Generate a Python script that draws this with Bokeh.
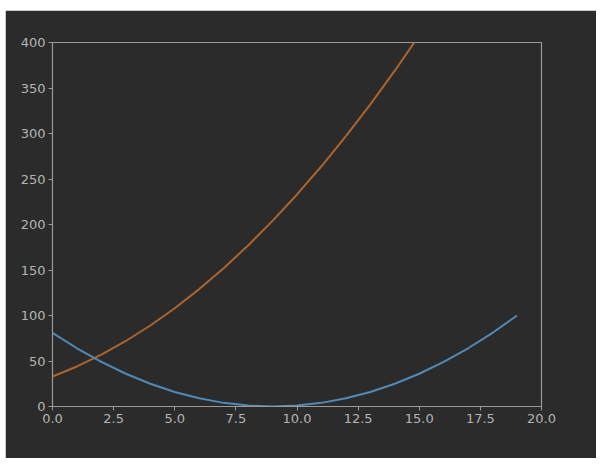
from bokeh.plotting import figure
from bokeh.models import FixedTicker, Range1d, CustomJSTickFormatter
from bokeh.embed import file_html
from bokeh.resources import INLINE

x_values = [0, 1, 2, 3, 4, 5, 6, 7, 8, 9, 10, 11, 12, 13, 14, 15, 16, 17, 18, 19]
blue_values = [81, 64, 49, 36, 25, 16, 9, 4, 1, 0, 1, 4, 9, 16, 25, 36, 49, 64, 81, 100]
orange_values = [33, 44, 57, 72, 89, 108, 129, 152, 177, 204, 233, 264, 297, 332, 369, 408, 449, 492, 537, 584]
x_ticks = [0, 2.5, 5, 7.5, 10, 12.5, 15, 17.5, 20]
y_ticks = [0, 50, 100, 150, 200, 250, 300, 350, 400]

BG = "#2b2b2b"
AX = "#9a9a9a"
TXT = "#b4b4b4"

p = figure(width=591, height=448, output_backend="svg", toolbar_location=None,
           x_range=Range1d(0, 20), y_range=Range1d(0, 400),
           min_border_left=47, min_border_right=55, min_border_top=32, min_border_bottom=52)
p.margin = (10, 0, 0, 5)
p.background_fill_color = BG
p.border_fill_color = BG
p.outline_line_color = AX
p.outline_line_width = 1.2
p.xgrid.visible = False
p.ygrid.visible = False

p.line(x_values, orange_values, line_color="#ad642c", line_width=2)
p.line(x_values, blue_values, line_color="#5189b4", line_width=2)

for ax in (p.xaxis[0], p.yaxis[0]):
    ax.axis_line_color = AX
    ax.major_tick_line_color = AX
    ax.major_tick_out = 4
    ax.major_tick_in = 0
    ax.minor_tick_line_color = None
    ax.major_label_text_color = TXT
    ax.major_label_text_font = "DejaVu Sans"
    ax.major_label_text_font_size = "13px"
    ax.major_label_standoff = 3

p.xaxis[0].ticker = FixedTicker(ticks=x_ticks)
p.xaxis[0].formatter = CustomJSTickFormatter(code="return tick.toFixed(1);")
p.yaxis[0].ticker = FixedTicker(ticks=y_ticks)

open("out.html", "w").write(file_html(p, INLINE))
